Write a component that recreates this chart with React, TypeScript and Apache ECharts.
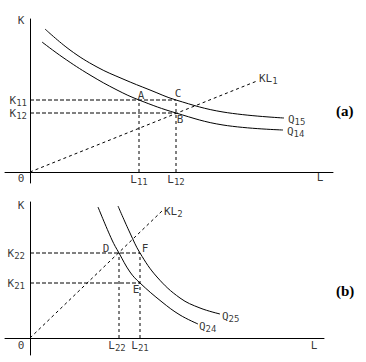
import React, { useEffect, useRef } from 'react';
import * as echarts from 'echarts';

// ---------- Panel (a) ----------
const Q15_A = [[1.5, 14.3], [4.0, 12.2], [6.7, 10.5], [9.3, 9.3], [12.0, 8.2], [14.6, 7.2], [19.3, 6.0], [25.4, 5.4]];
const Q14_A = [[1.2, 13.0], [3.3, 11.45], [6.0, 9.7], [8.7, 8.2], [10.9, 7.2], [14.6, 5.9], [19.3, 4.7], [25.3, 4.2]];
const KL1_END = [22.7, 9.1];
const L11 = 10.9;
const L12 = 14.6;
const K11 = 7.2;
const K12 = 5.9;

// ---------- Panel (b) ----------
const Q25_B = [[8.8, 13.2], [10.0, 10.5], [11.0, 8.5], [12.7, 6.1], [15.0, 4.0], [17.0, 3.0], [19.0, 2.4]];
const Q24_B = [[6.8, 13.1], [8.2, 9.8], [8.9, 8.5], [10.0, 6.6], [11.0, 5.5], [13.2, 3.6], [15.0, 2.3], [16.8, 1.4]];
const KL2_END = [13.2, 12.7];
const L22 = 8.9;
const L21 = 11.0;
const K22 = 8.5;
const K21 = 5.5;

// axis extents
const A_X = [-2.5, 30.3];
const A_Y = [-1.1, 15.3];
const B_X = [-2.5, 29.4];
const B_Y = [-1.7, 13.6];

const FONT = 'DejaVu Sans Mono';
const rich = {
  m: { fontSize: 11, fontFamily: FONT, color: '#000' },
  s: { fontSize: 9, fontFamily: FONT, color: '#000', padding: [6, 0, 0, 0] },
};

const sub = (main: string, s?: string) => (s ? `{m|${main}}{s|${s}}` : `{m|${main}}`);

function lbl(x: number, y: number, text: string, off: number[], align = 'center', vAlign = 'middle') {
  return {
    value: [x, y],
    label: {
      show: true,
      formatter: text,
      position: off,
      align,
      verticalAlign: vAlign,
      color: '#000',
      fontFamily: FONT,
      rich,
    },
  };
}

function curve(data: number[][], gi: number) {
  return {
    type: 'line',
    xAxisIndex: gi,
    yAxisIndex: gi,
    data,
    smooth: 0.4,
    symbol: 'none',
    lineStyle: { color: '#000', width: 1 },
    silent: true,
  };
}

function dashed(data: number[][], gi: number, dash: number[]) {
  return {
    type: 'line',
    xAxisIndex: gi,
    yAxisIndex: gi,
    data,
    symbol: 'none',
    lineStyle: { color: '#000', width: 1, type: dash },
    silent: true,
  };
}

function axisPair(gi: number, xr: number[], yr: number[]) {
  const common = {
    type: 'value',
    gridIndex: gi,
    axisLine: { show: true, onZero: true, lineStyle: { color: '#000', width: 1 } },
    axisTick: { show: false },
    axisLabel: { show: false },
    splitLine: { show: false },
  };
  return {
    x: { ...common, min: xr[0], max: xr[1] },
    y: { ...common, min: yr[0], max: yr[1] },
  };
}

export default function App() {
  const ref = useRef<HTMLDivElement>(null);
  useEffect(() => {
    if (!ref.current) return;
    const chart = echarts.init(ref.current, undefined, { renderer: 'svg' });
    const a = axisPair(0, A_X, A_Y);
    const b = axisPair(1, B_X, B_Y);

    const labelsA = [
      lbl(0, A_Y[1], sub('K'), [-9, 1]),
      lbl(0, 0, sub('0'), [-9, 6]),
      lbl(A_X[1], 0, sub('L'), [-13, 5]),
      lbl(0, K11, sub('K', '11'), [-3, 0], 'right'),
      lbl(0, K12, sub('K', '12'), [-3, 0], 'right'),
      lbl(L11, 0, sub('L', '11'), [0, 7]),
      lbl(L12, 0, sub('L', '12'), [0, 7]),
      lbl(L11, K11, sub('A'), [2, -5]),
      lbl(L12, K11, sub('C'), [2, -7]),
      lbl(L12, K12, sub('B'), [4, 6]),
      lbl(KL1_END[0], KL1_END[1], sub('KL', '1'), [2, -3], 'left'),
      lbl(Q15_A[Q15_A.length - 1][0], Q15_A[Q15_A.length - 1][1], sub('Q', '15'), [4, 1], 'left'),
      lbl(Q14_A[Q14_A.length - 1][0], Q14_A[Q14_A.length - 1][1], sub('Q', '14'), [4, 1], 'left'),
    ];
    const labelsB = [
      lbl(0, B_Y[1], sub('K'), [-9, 3]),
      lbl(0, 0, sub('0'), [-9, 7]),
      lbl(B_X[1], 0, sub('L'), [-10, 7]),
      lbl(0, K22, sub('K', '22'), [-5, 0], 'right'),
      lbl(0, K21, sub('K', '21'), [-5, 0], 'right'),
      lbl(L22, 0, sub('L', '22'), [-2, 7]),
      lbl(L21, 0, sub('L', '21'), [0, 7]),
      lbl(L22, K22, sub('D'), [-13, -5]),
      lbl(L21, K22, sub('F'), [5, -5]),
      lbl(L21, K21, sub('E'), [-4, 6]),
      lbl(KL2_END[0], KL2_END[1], sub('KL', '2'), [2, 0], 'left'),
      lbl(Q25_B[Q25_B.length - 1][0], Q25_B[Q25_B.length - 1][1], sub('Q', '25'), [2, 2], 'left'),
      lbl(Q24_B[Q24_B.length - 1][0], Q24_B[Q24_B.length - 1][1], sub('Q', '24'), [1, 2], 'left'),
    ];

    const H = [4, 2];
    const V = [3, 3];
    const R = [3, 3];

    chart.setOption({
      animation: false,
      backgroundColor: '#fff',
      grid: [
        { left: 5, right: 33, top: 19, bottom: 179 },
        { left: 5, right: 42, top: 202, bottom: 7 },
      ],
      xAxis: [a.x, b.x],
      yAxis: [a.y, b.y],
      graphic: [
        { type: 'text', left: 336, top: 103, style: { text: '(a)', font: 'bold 15px "Liberation Serif"', fill: '#000' } },
        { type: 'text', left: 336, top: 283, style: { text: '(b)', font: 'bold 15px "Liberation Serif"', fill: '#000' } },
      ],
      series: [
        curve(Q15_A, 0),
        curve(Q14_A, 0),
        dashed([[0, K11], [L12, K11]], 0, H),
        dashed([[0, K12], [L12, K12]], 0, H),
        dashed([[L11, 0], [L11, K11]], 0, V),
        dashed([[L12, 0], [L12, K11]], 0, V),
        dashed([[0, 0], KL1_END], 0, R),
        {
          type: 'scatter', xAxisIndex: 0, yAxisIndex: 0, symbolSize: 0, silent: true,
          itemStyle: { color: '#000' },
          data: labelsA,
        },
        curve(Q25_B, 1),
        curve(Q24_B, 1),
        dashed([[0, K22], [L21, K22]], 1, H),
        dashed([[0, K21], [L21, K21]], 1, H),
        dashed([[L22, 0], [L22, K22]], 1, V),
        dashed([[L21, 0], [L21, K22]], 1, V),
        dashed([[0, 0], KL2_END], 1, R),
        {
          type: 'scatter', xAxisIndex: 1, yAxisIndex: 1, symbolSize: 0, silent: true,
          itemStyle: { color: '#000' },
          data: labelsB,
        },
      ],
    });
    return () => chart.dispose();
  }, []);
  return <div ref={ref} style={{ width: 366, height: 362, position: 'absolute', left: 0, top: 0 }} />;
}
